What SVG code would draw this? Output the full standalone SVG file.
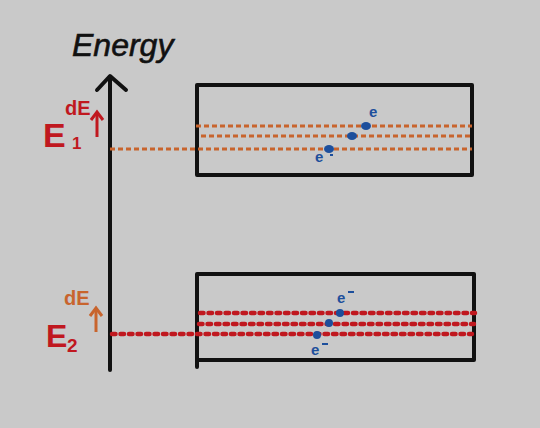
<svg xmlns="http://www.w3.org/2000/svg" width="540" height="428" viewBox="0 0 540 428">
<style>
.k{stroke:#111;stroke-width:4;fill:none;stroke-linecap:round;stroke-linejoin:round}
.o{stroke:#c8642d;stroke-width:3;stroke-dasharray:5 3;fill:none}
.r{stroke:#c0181f;stroke-width:4.5;stroke-dasharray:3.5 5;stroke-linecap:round;fill:none}
.b{fill:#1d4f9c}
.bt{fill:#1d4f9c;font-family:"Liberation Sans",sans-serif;font-weight:bold}
.rt{fill:#c0181f;font-family:"Liberation Sans",sans-serif;font-weight:bold}
.ot{fill:#c8642d;font-family:"Liberation Sans",sans-serif;font-weight:bold}
</style>
<rect width="540" height="428" fill="#c9c9c9"/>
<g id="axis">
<line class="k" x1="110" y1="77" x2="110" y2="370"/>
<polyline class="k" points="97,90 110,76 126,90"/>
<text x="72" y="56" font-family="Liberation Sans,sans-serif" font-size="32" fill="#111" font-style="italic" stroke="#111" stroke-width="0.6">Energy</text>
</g>
<g id="band1">
<rect class="k" x="197" y="85" width="275" height="90" stroke-width="3.5"/>
</g>
<g id="band2">
<rect class="k" x="197" y="274" width="277" height="86" stroke-width="3.5"/>
<line class="k" x1="197" y1="360" x2="197" y2="367" stroke-width="3.5"/>
</g>
<g id="connectors">
<line class="o" x1="196" y1="126" x2="472" y2="126"/>
<line class="o" x1="201" y1="136" x2="472" y2="136"/>
<line class="o" x1="110" y1="149" x2="472" y2="149"/>
<line class="r" x1="200" y1="313" x2="475" y2="313"/>
<line class="r" x1="199" y1="324" x2="474" y2="324"/>
<line class="r" x1="112" y1="334" x2="472" y2="334"/>
</g>
<g id="E1label">
<text class="rt" x="43" y="147" font-size="34">E</text>
<text class="rt" x="72" y="149" font-size="17">1</text>
<text class="rt" x="65" y="115" font-size="20">dE</text>
<line x1="97" y1="137" x2="97" y2="113" stroke="#c0181f" stroke-width="3"/>
<polyline points="91,120 97,112 103,120" fill="none" stroke="#c0181f" stroke-width="3"/>
</g>
<g id="E2label">
<text class="rt" x="46" y="347" font-size="32">E</text>
<text class="rt" x="67" y="352" font-size="19">2</text>
<text class="ot" x="64" y="305" font-size="20">dE</text>
<line x1="96" y1="332" x2="96" y2="309" stroke="#c8642d" stroke-width="3"/>
<polyline points="90,316 96,308 102,316" fill="none" stroke="#c8642d" stroke-width="3"/>
</g>
<g id="electrons1">
<ellipse class="b" cx="366" cy="126" rx="5" ry="4"/>
<ellipse class="b" cx="352" cy="136" rx="5" ry="4"/>
<ellipse class="b" cx="329" cy="149" rx="5" ry="4"/>
<text class="bt" x="369" y="117" font-size="15">e</text>
<text class="bt" x="315" y="162" font-size="15">e</text>
<line x1="330" y1="155" x2="333" y2="155" stroke="#1d4f9c" stroke-width="2"/>
</g>
<g id="electrons2">
<circle class="b" cx="340" cy="313" r="4"/>
<circle class="b" cx="329" cy="323" r="4"/>
<circle class="b" cx="317" cy="335" r="4"/>
<text class="bt" x="337" y="303" font-size="15">e</text>
<line x1="348" y1="292" x2="354" y2="292" stroke="#1d4f9c" stroke-width="2"/>
<text class="bt" x="311" y="355" font-size="15">e</text>
<line x1="322" y1="344" x2="328" y2="344" stroke="#1d4f9c" stroke-width="2"/>
</g>
</svg>
